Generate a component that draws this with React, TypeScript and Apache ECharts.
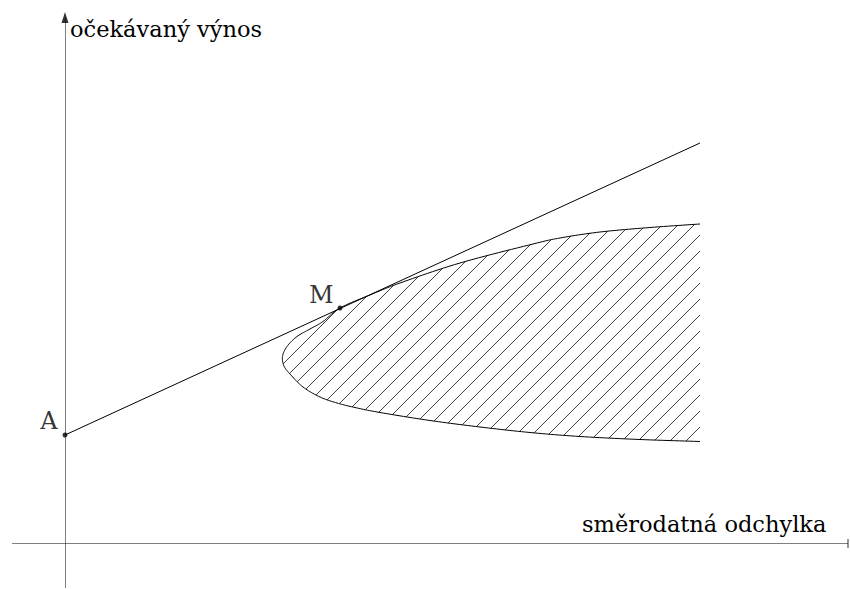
import React, { useEffect, useRef } from "react";
import * as echarts from "echarts";

// ---- data (units: σ = standard deviation, μ = expected return) ----
const frontierSigma = [6.35, 5.85, 5.35, 4.95, 4.68, 3.95, 3.35, 3.05, 2.75, 2.58, 2.45, 2.32, 2.22, 2.175, 2.19, 2.25, 2.38, 2.55, 2.72, 2.9, 3.15, 3.65, 4.15, 4.65, 5.15, 5.75, 6.35];
const frontierReturn = [3.19, 3.155, 3.11, 3.05, 2.99, 2.8, 2.6, 2.48, 2.35, 2.215, 2.14, 2.065, 1.965, 1.865, 1.77, 1.69, 1.56, 1.46, 1.4, 1.355, 1.305, 1.225, 1.16, 1.105, 1.065, 1.035, 1.015];
const cmlSigma = [0, 6.35];
const cmlReturn = [1.08, 4.0];
const pointNames = ["A", "M"];
const pointSigma = [0, 2.75];
const pointReturn = [1.08, 2.35];
const xAxisExtent = [-0.53, 7.83];
const yAxisExtent = [-0.45, 5.31];
const yAxisLabel = "očekávaný výnos";
const xAxisLabel = "směrodatná odchylka";

const FONT = "DejaVu Serif";

// Catmull-Rom sampling of screen points (for drawing only)
function catmull(pts: number[][], seg = 12): number[][] {
  const out: number[][] = [];
  for (let i = 0; i < pts.length - 1; i++) {
    const p0 = pts[Math.max(0, i - 1)];
    const p1 = pts[i];
    const p2 = pts[i + 1];
    const p3 = pts[Math.min(pts.length - 1, i + 2)];
    for (let k = 0; k < seg; k++) {
      const t = k / seg;
      const t2 = t * t;
      const t3 = t2 * t;
      const f = (a: number, b: number, c: number, d: number) =>
        0.5 * (2 * b + (-a + c) * t + (2 * a - 5 * b + 4 * c - d) * t2 + (-a + 3 * b - 3 * c + d) * t3);
      out.push([f(p0[0], p1[0], p2[0], p3[0]), f(p0[1], p1[1], p2[1], p3[1])]);
    }
  }
  out.push(pts[pts.length - 1]);
  return out;
}

export default function App() {
  const ref = useRef<HTMLDivElement>(null);
  useEffect(() => {
    document.body.style.margin = "0";
    if (!ref.current) return;
    const chart = echarts.init(ref.current, null, { renderer: "svg" });
    const frontier = frontierSigma.map((s, i) => [s, frontierReturn[i]]);
    const labelOffsets = [
      [0, -14],
      [0, -13],
    ];
    const option: any = {
      animation: false,
      backgroundColor: "#ffffff",
      grid: { left: 0, right: 0, top: 0, bottom: 0 },
      xAxis: { type: "value", min: -0.65, max: 7.85, show: false },
      yAxis: { type: "value", min: -0.46, max: 5.43, show: false },
      graphic: [
        { type: "text", left: 70, top: 17, style: { text: yAxisLabel, fontFamily: FONT, fontSize: 22.5, fill: "#000" } },
        { type: "text", left: 582, top: 512, style: { text: xAxisLabel, fontFamily: FONT, fontSize: 22.5, fill: "#000" } },
      ],
      series: [
        {
          type: "custom",
          coordinateSystem: "cartesian2d",
          data: [[0, 0]],
          silent: true,
          z: 1,
          renderItem: (params: any, api: any) => {
            const pts = catmull(frontier.map((p) => api.coord(p)));
            const n = pts.length;
            let minC = Infinity;
            let maxC = -Infinity;
            pts.forEach((p: number[]) => {
              minC = Math.min(minC, p[0] + p[1]);
              maxC = Math.max(maxC, p[0] + p[1]);
            });
            const step = 16;
            const phase = 935;
            let c = phase - step * Math.ceil((phase - minC) / step);
            const children: any[] = [];
            for (; c <= maxC; c += step) {
              const hits: number[][] = [];
              for (let i = 0; i < n; i++) {
                const a = pts[i];
                const b = pts[(i + 1) % n];
                const fa = a[0] + a[1] - c;
                const fb = b[0] + b[1] - c;
                if ((fa < 0 && fb >= 0) || (fa >= 0 && fb < 0)) {
                  const t = fa / (fa - fb);
                  hits.push([a[0] + (b[0] - a[0]) * t, a[1] + (b[1] - a[1]) * t]);
                }
              }
              hits.sort((u, v) => u[0] - v[0]);
              for (let k = 0; k + 1 < hits.length; k += 2) {
                children.push({
                  type: "line",
                  shape: { x1: hits[k][0], y1: hits[k][1], x2: hits[k + 1][0], y2: hits[k + 1][1] },
                  style: { stroke: "#000", lineWidth: 0.75 },
                });
              }
            }
            children.push({
              type: "polyline",
              shape: { points: pts },
              style: { stroke: "#000", lineWidth: 1, fill: null },
              z2: 5,
            });
            return { type: "group", children };
          },
        },
        {
          type: "line",
          data: cmlSigma.map((s, i) => [s, cmlReturn[i]]),
          symbol: "none",
          lineStyle: { color: "#000", width: 1 },
          z: 3,
        },
        {
          type: "lines",
          coordinateSystem: "cartesian2d",
          silent: true,
          z: 2,
          symbol: "none",
          lineStyle: { color: "#000", width: 1 },
          data: [
            { coords: [[0, yAxisExtent[0]], [0, yAxisExtent[1] - 0.06]] },
            { coords: [[xAxisExtent[0], -0.005], [xAxisExtent[1], -0.005]] },
            { coords: [[xAxisExtent[1], -0.05], [xAxisExtent[1], 0.04]], lineStyle: { width: 1.6 } },
          ],
        },
        {
          type: "scatter",
          data: [[0, yAxisExtent[1] - 0.055]],
          symbol: "triangle",
          symbolSize: [7, 11],
          itemStyle: { color: "#000" },
          silent: true,
          z: 4,
        },
        {
          type: "scatter",
          data: pointSigma.map((s, i) => ({
            value: [s, pointReturn[i]],
            name: pointNames[i],
            label: {
              show: true,
              position: "left",
              distance: i === 0 ? 5 : 4,
              offset: labelOffsets[i],
              formatter: pointNames[i],
              fontFamily: FONT,
              fontSize: 24,
              color: "#000",
            },
          })),
          symbol: "circle",
          symbolSize: 5,
          itemStyle: { color: "#000" },
          z: 5,
        },
      ],
    };
    chart.setOption(option);
    return () => chart.dispose();
  }, []);
  return <div ref={ref} style={{ width: 850, height: 589 }} />;
}
